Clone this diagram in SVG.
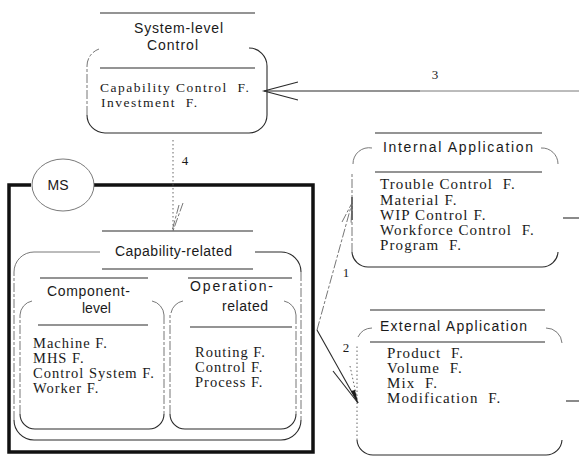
<svg xmlns="http://www.w3.org/2000/svg" width="579" height="460" viewBox="0 0 579 460">
  <defs>
    <style>
      .ln { fill: none; stroke: #2a2a2a; stroke-width: 1.1; }
      .lt { fill: none; stroke: #6a6a6a; stroke-width: 0.9; }
      .dash { fill: none; stroke: #666; stroke-width: 0.9; stroke-dasharray: 9 2 3 2; }
      .dot { fill: none; stroke: #555; stroke-width: 0.9; stroke-dasharray: 1.5 2.5; }
      .bold { fill: none; stroke: #111; stroke-width: 3.5; }
      .t { font-family: "Liberation Sans", Arial, sans-serif; font-size: 14px; fill: #1a1a1a; }
      .c { font-family: "Liberation Serif", "Times New Roman", serif; font-size: 14.5px; fill: #1a1a1a; letter-spacing: 1px; }
      .w { font-size: 15px; letter-spacing: 1.1px; }
      .s { font-size: 13.5px; letter-spacing: 1.5px; }
      .n { font-family: "Liberation Serif", "Times New Roman", serif; font-size: 13px; fill: #1a1a1a; }
    </style>
  </defs>
  <rect width="579" height="460" fill="#ffffff"/>

  <!-- manufacturing system frame -->
  <g id="ms-frame">
    <path class="bold" d="M31,185 H9 V452 H313 V185 H94"/>
    <ellipse class="lt" cx="63" cy="185" rx="31" ry="26"/>
    <text class="t" x="58" y="190" text-anchor="middle">MS</text>
  </g>

  <!-- system-level control -->
  <g id="system-level-control">
    <path class="ln" d="M100,13 H255 M100,68 H255"/>
    <path class="ln" d="M249,48 A18,18 0 0 1 267,66 V115 A18,18 0 0 1 249,133 H105 A18,18 0 0 1 87,115"/>
    <path class="dash" d="M87,115 V66 A18,18 0 0 1 99,49"/>
    <text class="t" x="134" y="33" textLength="89" lengthAdjust="spacing">System-level</text>
    <text class="t" x="147" y="50" textLength="51" lengthAdjust="spacing">Control</text>
    <text class="c s" x="100" y="92" xml:space="preserve">Capability Control  F.</text>
    <text class="c s" x="101" y="107" xml:space="preserve">Investment  F.</text>
  </g>

  <!-- capability-related -->
  <g id="capability-related">
    <path class="ln" d="M102,231 H253 M102,269 H253"/>
    <path class="lt" d="M14,272 A20,20 0 0 1 34,252 H100"/>
    <path class="ln" d="M255,252 H281 A20,20 0 0 1 301,272"/>
    <path class="dash" d="M301,272 V420"/>
    <path class="ln" d="M301,420 A20,20 0 0 1 281,440 H34 A20,20 0 0 1 14,420"/>
    <path class="dash" d="M14,420 V272"/>
    <text class="t" x="115" y="256" textLength="117" lengthAdjust="spacing">Capability-related</text>
  </g>

  <!-- component-level -->
  <g id="component-level">
    <path class="ln" d="M40,278 H148 M38,325 H148"/>
    <path class="lt" d="M20,315 A15,15 0 0 1 32,301"/>
    <path class="lt" d="M152,301 A15,15 0 0 1 164,315"/>
    <path class="dash" d="M164,315 V414"/>
    <path class="ln" d="M164,414 A15,15 0 0 1 149,429 H35 A15,15 0 0 1 20,414"/>
    <path class="dash" d="M20,414 V315"/>
    <text class="t" x="47" y="296" textLength="83" lengthAdjust="spacing">Component-</text>
    <text class="t" x="82" y="313">level</text>
    <text class="c" x="33" y="348">Machine F.</text>
    <text class="c" x="33" y="363">MHS F.</text>
    <text class="c" x="33" y="378">Control System F.</text>
    <text class="c" x="33" y="393">Worker F.</text>
  </g>

  <!-- operation-related -->
  <g id="operation-related">
    <path class="ln" d="M188,278 H292 M190,327 H292"/>
    <path class="lt" d="M171,313 A15,15 0 0 1 183,301"/>
    <path class="lt" d="M284,301 A15,15 0 0 1 296,315"/>
    <path class="dash" d="M296,315 V414"/>
    <path class="ln" d="M296,414 A15,15 0 0 1 281,429 H185 A15,15 0 0 1 170,414"/>
    <path class="dash" d="M170,414 V315"/>
    <text class="t" x="190" y="291" textLength="83" lengthAdjust="spacing">Operation-</text>
    <text class="t" x="222" y="311" textLength="46" lengthAdjust="spacing">related</text>
    <text class="c" x="195" y="357">Routing F.</text>
    <text class="c" x="195" y="372">Control F.</text>
    <text class="c" x="195" y="387">Process F.</text>
  </g>

  <!-- internal application -->
  <g id="internal-application">
    <path class="ln" d="M375,133 H542 M375,172 H542"/>
    <path class="lt" d="M353,164 A16,16 0 0 1 372,148"/>
    <path class="lt" d="M541,148 A16,16 0 0 1 558,164"/>
    <path class="ln" d="M558,252 A16,16 0 0 1 542,267 H368 A16,16 0 0 1 352,252"/>
    <path class="dash" d="M352,252 V172"/>
    <path class="ln" d="M352,197 V220"/>
    <text class="t" x="383" y="152" textLength="150" lengthAdjust="spacing">Internal Application</text>
    <text class="c w" x="380" y="189" xml:space="preserve">Trouble Control  F.</text>
    <text class="c w" x="380" y="205">Material F.</text>
    <text class="c w" x="380" y="220">WIP Control F.</text>
    <text class="c w" x="380" y="235" xml:space="preserve">Workforce Control  F.</text>
    <text class="c w" x="380" y="250" xml:space="preserve">Program  F.</text>
  </g>

  <!-- external application -->
  <g id="external-application">
    <path class="ln" d="M370,310 H545 M370,342 H545"/>
    <path class="lt" d="M358,337 A16,16 0 0 1 372,328"/>
    <path class="lt" d="M546,328 A16,16 0 0 1 562,343"/>
    <path class="ln" d="M562,440 A16,16 0 0 1 546,455 H373 A16,16 0 0 1 357,440"/>
    <path class="dot" d="M357,440 V345"/>
    <text class="t" x="380" y="331" textLength="147" lengthAdjust="spacing">External Application</text>
    <text class="c w" x="387" y="358" xml:space="preserve">Product  F.</text>
    <text class="c w" x="387" y="373" xml:space="preserve">Volume  F.</text>
    <text class="c w" x="387" y="388" xml:space="preserve">Mix  F.</text>
    <text class="c w" x="387" y="403" xml:space="preserve">Modification  F.</text>
  </g>

  <!-- connectors -->
  <g id="connectors">
    <!-- 3: from the right into system-level control -->
    <path class="ln" d="M264,91 H420"/>
    <path class="lt" d="M420,91 H579" stroke="#8a8a8a"/>
    <path class="ln" d="M298,82 L264,91 L298,100"/>
    <text class="n" x="435" y="79" text-anchor="middle">3</text>

    <!-- 4: system-level control down to capability-related -->
    <path class="dot" d="M173,140 V231"/>
    <path class="dash" d="M183,203 L173,231 M179,205 L172,231"/>
    <text class="n" x="185" y="165" text-anchor="middle">4</text>

    <!-- 1: frame to internal application -->
    <path class="dash" d="M317,330 L352,203"/>
    <path class="dash" d="M342,222 L352,203 L351,224"/>
    <text class="n" x="346" y="277" text-anchor="middle">1</text>

    <!-- 2: frame to external application -->
    <path class="ln" d="M317,330 L358,403"/>
    <path class="ln" d="M333,371 L358,403"/>
    <path class="dot" d="M350,366 L358,403"/>
    <path d="M358,403 L351,391 L355,390 Z" fill="#1a1a1a"/>
    <text class="n" x="346" y="352" text-anchor="middle">2</text>

    <!-- stubs leaving the application boxes -->
    <path class="ln" d="M563,218 H579"/>
    <path class="ln" d="M566,401 H579"/>
  </g>
</svg>
